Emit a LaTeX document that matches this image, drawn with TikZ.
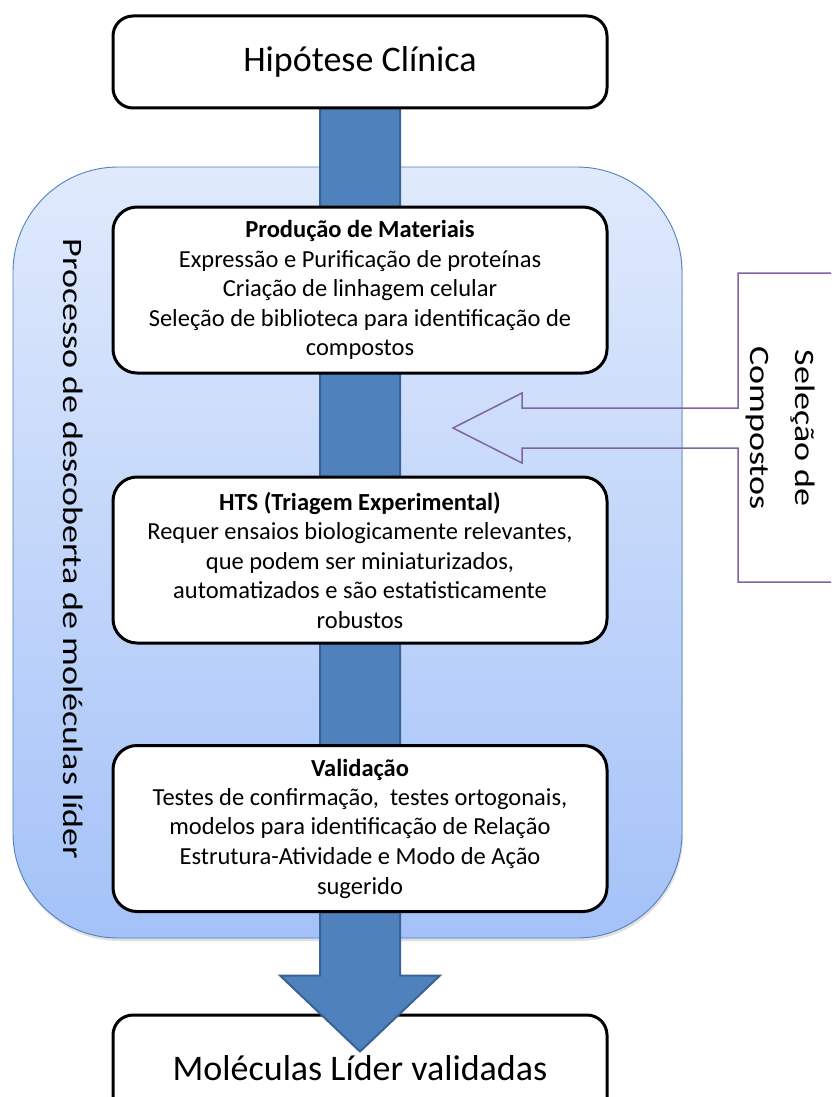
\documentclass[tikz,border=0pt]{standalone}
\usepackage{graphicx}
\usepackage{fontspec}
\setmainfont{Carlito}
\usetikzlibrary{shadows,calc}
\definecolor{shaftblue}{HTML}{4F81BD}
\definecolor{shaftedge}{HTML}{3A6394}
\definecolor{panetop}{HTML}{E0EAFC}
\definecolor{panebot}{HTML}{A4C2F8}
\definecolor{paneedge}{HTML}{4F81BD}
\definecolor{calloutpurple}{HTML}{8064A2}
% squat rotated caption text: full-size glyphs compressed across the line
\newcommand{\squat}[1]{\scalebox{1.0}[0.78]{\begin{tabular}{@{}c@{}}#1\end{tabular}}}
\begin{document}
\begin{tikzpicture}[x=1pt,y=-1pt,
  endbox/.style={draw=black, line width=3pt, fill=white, rounded corners=20pt,
    minimum width=494pt, inner sep=0pt, font=\fontsize{36}{43}\selectfont},
  stagebox/.style={draw=black, line width=3pt, fill=white, rounded corners=24pt,
    minimum width=494pt, minimum height=166pt, inner sep=0pt, align=center,
    font=\fontsize{24.5}{29.5}\selectfont},
  pane/.style={draw=paneedge, line width=0.9pt, rounded corners=105pt,
    top color=panetop, bottom color=panebot, minimum width=669pt, minimum height=771pt,
    drop shadow={opacity=0.25, shadow xshift=1pt, shadow yshift=-3pt}},
  blockarrow/.style={fill=shaftblue, draw=shaftedge, line width=2pt, line join=miter},
  callout/.style={draw=calloutpurple, line width=1.5pt, line join=miter},
  sidelabel/.style={rotate=-90, font=\fontsize{36}{57.7}\selectfont, inner sep=0pt}
]
\useasboundingbox (0,0) rectangle (831,1097);
\clip (0,0) rectangle (831,1097);

% final result box (partly below the page edge)
\node[endbox, minimum height=107pt] (lead) at (360,1068.5) {Moléculas Líder validadas};

% background panel of the discovery process
\node[pane] (proc) at (347.5,552.5) {};

% wide flow arrow from the hypothesis down to the validated leads
\coordinate (flowtop) at ($(lead.north)+(0,-915)$);
\coordinate (flowtip) at ($(lead.north)+(0,38)$);
\draw[blockarrow] ($(flowtop)+(-40,0)$) -- ($(flowtip)+(-40,-76)$) -- ($(flowtip)+(-80,-76)$)
  -- (flowtip) -- ($(flowtip)+(80,-76)$) -- ($(flowtip)+(40,-76)$) -- ($(flowtop)+(40,0)$) -- cycle;

% starting point
\node[endbox, minimum height=92pt] (hyp) at (360,62) {Hipótese Clínica};

% stages
\node[stagebox] (mat) at (360,290) {\textbf{Produção de Materiais}\\
  Expressão e Purificação de proteínas\\
  Criação de linhagem celular\\
  Seleção de biblioteca para identificação de\\
  compostos};
\node[stagebox] (hts) at (360,560) {\textbf{HTS (Triagem Experimental)}\\
  Requer ensaios biologicamente relevantes,\\
  que podem ser miniaturizados,\\
  automatizados e são estatisticamente\\
  robustos};
\node[stagebox] (val) at (360,828.5) {\textbf{Validação}\\
  Testes de confirmação,~ testes ortogonais,\\
  modelos para identificação de Relação\\
  Estrutura-Atividade e Modo de Ação\\
  sugerido};

% compound selection callout pointing into the process
\coordinate (seltip) at (453,428);
\draw[callout] (870,273) -- (738,273) -- (738,408) -- (522,408) -- (522,393) -- (seltip)
  -- (522,463) -- (522,448) -- (738,448) -- (738,582) -- (870,582);
\node[sidelabel] (sel) at (782,428) {\squat{Seleção de\\Compostos}};

% vertical caption of the panel
\node[sidelabel, anchor=base] (proclabel) at (68,549) {\squat{Processo de descoberta de moléculas líder}};
\end{tikzpicture}
\end{document}
